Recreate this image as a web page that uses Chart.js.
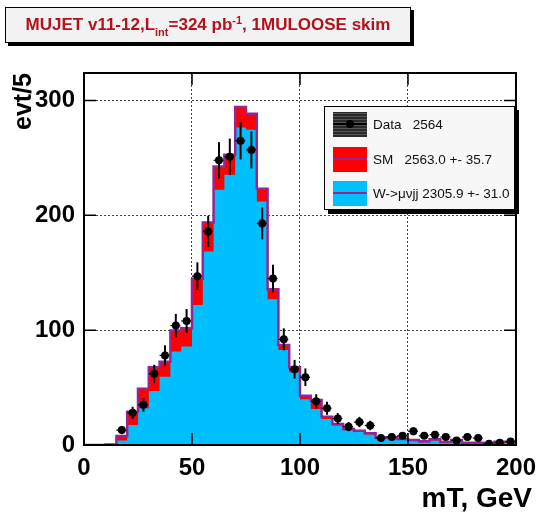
<!DOCTYPE html>
<html>
<head>
<meta charset="utf-8">
<script src="https://cdn.jsdelivr.net/npm/chart.js@4.4.1/dist/chart.umd.min.js"></script>
<style>
  body { margin: 0; background: #fff; }
  #wrap { position: relative; width: 545px; height: 514px; font-family: "Liberation Sans", Arial, sans-serif; }
  #myChart { position: absolute; left: 0; top: 0; }
  #titleBox {
    position: absolute; left: 5px; top: 7px; width: 404px; height: 34px;
    background: #f2f2f2; border: 1.5px solid #000; box-shadow: 3px 3px 0 #000;
    color: #b3121c; font-weight: bold; font-size: 17px; line-height: 34px; text-align: center;
  }
  #titleBox sub { font-size: 11px; vertical-align: -6px; line-height: 0; }
  #titleBox sup { font-size: 11px; vertical-align: 6px; line-height: 0; }
  #xTitle {
    position: absolute; right: 13px; top: 484px; font-size: 28px; line-height: 28px;
    font-weight: bold; color: #000; white-space: pre;
  }
  #legendBox {
    position: absolute; left: 324px; top: 106px; width: 189px; height: 102px;
    background: #f7f7f7; border: 1px solid #000; box-shadow: 4px 4px 0 #000;
    font-size: 13.5px; color: #111;
  }
  .row { position: absolute; left: 8px; height: 25px; }
  .sym { position: absolute; left: 0; top: 0; width: 34px; height: 25px; }
  .sym .ln { position: absolute; left: 0; right: 0; top: 11px; height: 2px; background: #93278f; }
  .lab { position: absolute; left: 40px; top: 0; line-height: 25px; white-space: pre; }
</style>
</head>
<body>
<div id="wrap">
  <canvas id="myChart" width="545" height="514"></canvas>
  <div id="titleBox">MUJET v11-12,L<sub>int</sub>=324 pb<sup>-1</sup>, 1MULOOSE skim</div>
  <div id="xTitle">mT, GeV</div>
  <div id="legendBox">
    <div class="row" style="top:5px">
      <div class="sym" style="background:repeating-linear-gradient(0deg,#2a2a2a 0 2px,#555 2px 3px)">
        <div class="ln" style="background:#000"></div>
        <div style="position:absolute;left:13px;top:8px;width:8px;height:8px;border-radius:50%;background:#000"></div>
      </div>
      <div class="lab">Data   2564</div>
    </div>
    <div class="row" style="top:40px">
      <div class="sym" style="background:#ff0000"><div class="ln"></div></div>
      <div class="lab">SM   2563.0 +- 35.7</div>
    </div>
    <div class="row" style="top:74px">
      <div class="sym" style="background:#00bfff"><div class="ln"></div></div>
      <div class="lab">W-&gt;&mu;&nu;jj 2305.9 +- 31.0</div>
    </div>
  </div>
</div>
<script>
'use strict';
// data, 5 GeV bins from 0 to 200
const binWidth = 5;
const binLow = [0, 5, 10, 15, 20, 25, 30, 35, 40, 45, 50, 55, 60, 65, 70, 75, 80, 85, 90, 95,
                100, 105, 110, 115, 120, 125, 130, 135, 140, 145, 150, 155, 160, 165, 170, 175, 180, 185, 190, 195];
const smTotal = [0, 0, 0.5, 7.8, 29, 49, 67.7, 72.6, 99.7, 101.7, 144.7, 193.8, 242.6, 252.8, 294.4, 288.6, 223.2, 135.7, 87.2, 67.7,
                 43.0, 39.2, 24.7, 18.3, 13.9, 12.5, 10.2, 6.4, 6.7, 5.2, 4.4, 3.2, 4.9, 2.6, 4.4, 2.0, 2.0, 1.2, 2.9, 2.9];
const wMuNuJJ = [0, 0, 0.3, 4.0, 17.4, 32, 47, 59.5, 81.4, 85.7, 122, 168.5, 222.3, 235.4, 276.6, 274.6, 212.1, 127, 82.8, 63.4,
                 39.8, 31.4, 22.6, 16.9, 12.8, 11.3, 9.1, 5.2, 5.6, 4.3, 3.6, 2.5, 4.0, 2.0, 3.6, 1.5, 1.5, 0.8, 2.3, 2.3];
const dataCounts = [null, null, null, 13, 28, 35, 62, 78, 104, 108, 147, 186, 248, 251, 265, 257, 193, 145, 92, 66,
                    59, 38, 32, 23, 16, 20, 17, 6, 7, 8, 12, 8, 9, 7, 4, 7, 6, 1, 2, 3];
const xTicks = [0, 50, 100, 150, 200];
const yTicks = [0, 100, 200, 300];
const xGridAt = [50, 100, 150];
const yGridAt = [100, 200, 300];

// step outline: one point per bin low edge, plus the closing edge
const stepPoints = vals => {
    const pts = binLow.map((lo, i) => ({x: lo, y: vals[i]}));
    pts.push({x: binLow[binLow.length - 1] + binWidth, y: vals[vals.length - 1]});
    return pts;
};
const dataPoints = binLow
    .map((lo, i) => ({x: lo + binWidth / 2, y: dataCounts[i]}))
    .filter(p => p.y !== null);

const boldFont = {family: '"Liberation Sans", Arial, sans-serif', size: 24, weight: 'bold'};

const histDecor = {
    id: 'histDecor',
    beforeDatasetDraw(chart, args) {
        if (args.index !== 0) return;
        const {ctx, scales: {x, y}} = chart;
        ctx.save();
        ctx.strokeStyle = '#000';
        dataCounts.forEach((n, i) => {
            if (n === null) return;
            const cx = x.getPixelForValue(binLow[i] + binWidth / 2);
            const cy = y.getPixelForValue(n);
            const e = Math.sqrt(n);
            ctx.setLineDash([]);
            ctx.lineWidth = 2;
            ctx.beginPath();
            ctx.moveTo(cx, y.getPixelForValue(n + e));
            ctx.lineTo(cx, y.getPixelForValue(Math.max(n - e, 0)));
            ctx.stroke();
            ctx.setLineDash([2, 2]);
            ctx.lineWidth = 1.2;
            ctx.beginPath();
            ctx.moveTo(x.getPixelForValue(binLow[i]), cy);
            ctx.lineTo(x.getPixelForValue(binLow[i] + binWidth), cy);
            ctx.stroke();
        });
        ctx.restore();
    },
    afterDraw(chart) {
        const {ctx, chartArea: a, scales: {x, y}} = chart;
        ctx.save();
        ctx.strokeStyle = '#000';
        ctx.lineWidth = 1.5;
        // ticks inside the frame, ROOT style
        ctx.beginPath();
        xTicks.forEach(v => {
            const px = x.getPixelForValue(v);
            ctx.moveTo(px, a.bottom); ctx.lineTo(px, a.bottom - 12);
            ctx.moveTo(px, a.top); ctx.lineTo(px, a.top + 12);
        });
        yTicks.forEach(v => {
            const py = y.getPixelForValue(v);
            ctx.moveTo(a.left, py); ctx.lineTo(a.left + 12, py);
            ctx.moveTo(a.right, py); ctx.lineTo(a.right - 12, py);
        });
        ctx.stroke();
        ctx.lineWidth = 2;
        ctx.strokeRect(a.left, a.top, a.right - a.left, a.bottom - a.top);
        ctx.restore();
    }
};

const ctx = document.getElementById('myChart');
const myChart = new Chart(ctx.getContext('2d'), {
    type: 'line',
    data: {
        datasets: [{
            label: 'Data',
            data: dataPoints,
            showLine: false,
            pointRadius: 4,
            pointBackgroundColor: '#000',
            pointBorderColor: '#000',
            pointBorderWidth: 0
        }, {
            label: 'SM outline',
            data: stepPoints(smTotal),
            stepped: true,
            borderColor: '#93278f',
            borderWidth: 2.5,
            pointRadius: 0,
            fill: false
        }, {
            label: 'W->munujj',
            data: stepPoints(wMuNuJJ),
            stepped: true,
            borderWidth: 0,
            borderColor: 'rgba(0,0,0,0)',
            backgroundColor: '#00bfff',
            pointRadius: 0,
            fill: 'origin'
        }, {
            label: 'SM',
            data: stepPoints(smTotal),
            stepped: true,
            borderWidth: 0,
            borderColor: 'rgba(0,0,0,0)',
            backgroundColor: '#ff0000',
            pointRadius: 0,
            fill: 'origin'
        }]
    },
    options: {
        responsive: false,
        animation: false,
        devicePixelRatio: 1,
        layout: {padding: {top: 73, right: 25, left: 0, bottom: 0}},
        plugins: {
            legend: {display: false},
            tooltip: {enabled: false}
        },
        scales: {
            x: {
                type: 'linear',
                min: 0,
                max: 200,
                afterBuildTicks: s => { s.ticks = xTicks.map(v => ({value: v})); },
                afterFit: s => { s.height = 69; },
                grid: {
                    drawTicks: false,
                    lineWidth: 1,
                    color: c => xGridAt.includes(c.tick && c.tick.value) ? '#444' : 'rgba(0,0,0,0)'
                },
                border: {display: false, dash: [2, 2]},
                ticks: {color: '#000', font: boldFont, padding: 9, maxRotation: 0}
            },
            y: {
                type: 'linear',
                min: 0,
                max: 324,
                afterBuildTicks: s => { s.ticks = yTicks.map(v => ({value: v})); },
                afterFit: s => { s.width = 84; },
                grid: {
                    drawTicks: false,
                    lineWidth: 1,
                    color: c => yGridAt.includes(c.tick && c.tick.value) ? '#444' : 'rgba(0,0,0,0)'
                },
                border: {display: false, dash: [2, 2]},
                ticks: {color: '#000', font: boldFont, padding: 9},
                title: {
                    display: true, text: 'evt/5', align: 'end', color: '#000',
                    font: {family: boldFont.family, size: 25, weight: 'bold'},
                    padding: {top: 9, bottom: 0}
                }
            }
        }
    },
    plugins: [histDecor]
});
</script>
</body>
</html>
